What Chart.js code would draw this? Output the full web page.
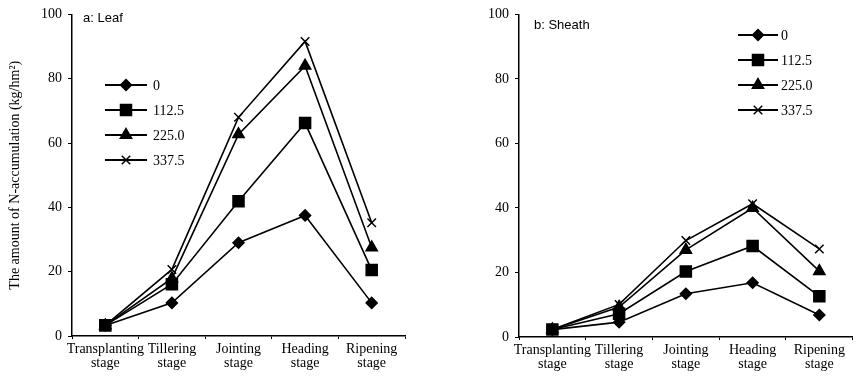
<!DOCTYPE html>
<html><head><meta charset="utf-8">
<script src="https://cdn.jsdelivr.net/npm/chart.js@4.4.1/dist/chart.umd.min.js"></script>
<style>
html,body{margin:0;padding:0;background:#fff;}
#wrap{position:relative;width:862px;height:376px;overflow:hidden;}
canvas{position:absolute;top:0;}
#c1{left:0;} #c2{left:431px;}
</style></head>
<body><div id="wrap"><canvas id="c1" width="431" height="376"></canvas><canvas id="c2" width="431" height="376"></canvas></div>
<script>
const stages = [["Transplanting","stage"],["Tillering","stage"],["Jointing","stage"],["Heading","stage"],["Ripening","stage"]];
const rates = ["0","112.5","225.0","337.5"];
const leaf0    = [3.3, 10.3, 29.0, 37.5, 10.3];
const leaf112  = [3.3, 16.1, 41.9, 66.2, 20.5];
const leaf225  = [3.3, 17.9, 62.7, 84.0, 27.5];
const leaf337  = [3.3, 20.7, 68.0, 91.6, 35.2];
const sheath0   = [2.3, 4.6, 13.4, 16.8, 6.8];
const sheath112 = [2.3, 7.2, 20.3, 28.2, 12.6];
const sheath225 = [2.3, 9.3, 27.0, 40.0, 20.4];
const sheath337 = [2.3, 10.1, 29.9, 41.3, 27.3];
const yTicks = [0, 20, 40, 60, 80, 100];

const serif = "'Liberation Serif','Times New Roman',serif";
const sans = "'Liberation Sans',Arial,sans-serif";
const markers = [
  {pointStyle:'rectRot', pointRadius:5.5},
  {pointStyle:'rect', pointRadius:7.8},
  {pointStyle:'triangle', pointRadius:6.5},
  {pointStyle:'crossRot', pointRadius:6}
];

const insideLegend = {
  id:'insideLegend',
  afterDraw(chart, args, opts){
    const ctx = chart.ctx;
    ctx.save();
    ctx.font = "13px " + sans;
    ctx.fillStyle = '#000';
    ctx.textBaseline = 'middle';
    ctx.textAlign = 'left';
    ctx.fillText(opts.panel, opts.panelX, opts.panelY);
    chart.data.datasets.forEach((ds, i) => {
      const y = opts.y0 + i * opts.dy;
      ctx.strokeStyle = '#000';
      ctx.lineWidth = 2;
      ctx.beginPath(); ctx.moveTo(opts.x0, y); ctx.lineTo(opts.x1, y); ctx.stroke();
      ctx.fillStyle = '#000';
      ctx.lineWidth = 1.5;
      Chart.helpers.drawPoint(ctx, {pointStyle: ds.pointStyle, radius: ds.pointRadius, rotation: 0, borderWidth: 1.5}, (opts.x0 + opts.x1) / 2, y);
      ctx.font = "14px " + serif;
      ctx.fillStyle = '#000';
      ctx.textAlign = 'left';
      ctx.fillText(ds.label, opts.tx, y + 1);
    });
    ctx.restore();
  }
};

function makeChart(id, series, cfg){
  const datasets = series.map((d, i) => ({
    label: rates[i], data: d,
    borderColor:'#000', backgroundColor:'#000', borderWidth:1.6,
    pointBackgroundColor:'#000', pointBorderColor:'#000', pointBorderWidth:1.5,
    pointStyle: markers[i].pointStyle, pointRadius: markers[i].pointRadius,
    tension:0, fill:false
  }));
  return new Chart(document.getElementById(id), {
    type:'line',
    data:{labels:stages, datasets},
    plugins:[insideLegend],
    options:{
      responsive:false, animation:false, devicePixelRatio:1,
      layout:{padding:{top:cfg.top, right:cfg.right, left:0, bottom:0}},
      plugins:{legend:{display:false}, tooltip:{enabled:false}, insideLegend:cfg.legend},
      scales:{
        x:{
          offset:true,
          grid:{display:true, drawOnChartArea:false, offset:true, color:'#000', tickLength:3, lineWidth:1},
          border:{display:true, color:'#000', width:1.5},
          ticks:{color:'#000', font:{family:serif, size:14, lineHeight:1.0}, padding:3, maxRotation:0, autoSkip:false},
          afterFit(s){ s.height = cfg.xh; }
        },
        y:{
          min:0, max:100,
          afterBuildTicks(s){ s.ticks = yTicks.map(v => ({value:v})); },
          grid:{display:true, drawOnChartArea:false, color:'#000', tickLength:4, lineWidth:1},
          border:{display:true, color:'#000', width:1.5},
          ticks:{color:'#000', font:{family:serif, size:14}, padding:6},
          title:{display:cfg.ytitle !== '', text:cfg.ytitle, color:'#000', font:{family:serif, size:14}, padding:{top:7,bottom:0}},
          afterFit(s){ s.width = cfg.yw; }
        }
      }
    }
  });
}

makeChart('c1', [leaf0, leaf112, leaf225, leaf337], {
  top:14, right:26, xh:40, yw:72,
  ytitle:'The amount of N-accumulation (kg/hm²)',
  legend:{panel:'a: Leaf', panelX:83, panelY:18, x0:105, x1:147, tx:153, y0:85, dy:25}
});
makeChart('c2', [sheath0, sheath112, sheath225, sheath337], {
  top:14, right:4, xh:39, yw:88,
  ytitle:'',
  legend:{panel:'b: Sheath', panelX:103, panelY:25, x0:307, x1:347, tx:350, y0:35, dy:25}
});
</script></body></html>
